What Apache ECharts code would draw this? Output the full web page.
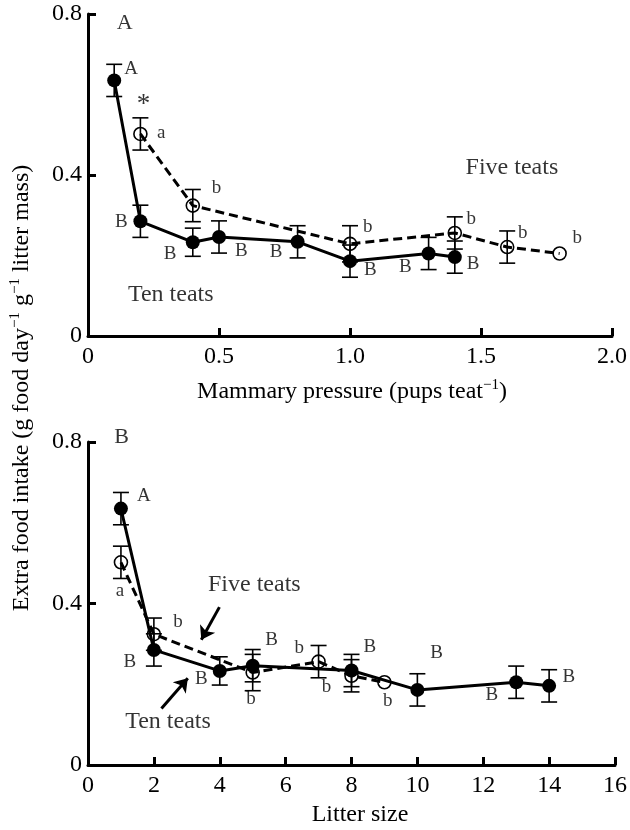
<!DOCTYPE html>
<html>
<head>
<meta charset="utf-8">
<script src="https://cdn.jsdelivr.net/npm/echarts@6/dist/echarts.min.js"></script>
<style>
  html, body { margin: 0; padding: 0; background: #fff; }
  #chart { width: 630px; height: 830px; }
</style>
</head>
<body>
<div id="chart"></div>
<script>
// Extra food intake of lactating females nursing with ten or five teats
const tenPressure  = [0.1, 0.2, 0.4, 0.5, 0.8, 1.0, 1.3, 1.4];
const tenLitter    = [1, 2, 4, 5, 8, 10, 13, 14];
const tenIntake    = [0.635, 0.285, 0.233, 0.246, 0.234, 0.186, 0.205, 0.196];
const tenSE        = [0.04, 0.04, 0.035, 0.04, 0.04, 0.04, 0.04, 0.04];

const fivePressure = [0.2, 0.4, 1.0, 1.4, 1.6, 1.8];
const fiveLitter   = [1, 2, 5, 7, 8, 9];
const fiveIntake   = [0.502, 0.324, 0.229, 0.256, 0.221, 0.205];
const fiveSE       = [0.04, 0.04, 0.045, 0.04, 0.04, 0];

const yTicks  = ['0', '0.4', '0.8'];
const xTicksA = ['0', '0.5', '1.0', '1.5', '2.0'];
const xTicksB = ['0', '2', '4', '6', '8', '10', '12', '14', '16'];

// significance letters, placed in data units of each panel
const notesA = [
  ['A', 0.165, 0.663], ['*', 0.212, 0.575], ['a', 0.279, 0.504], ['b', 0.490, 0.368],
  ['B', 0.127, 0.284], ['B', 0.313, 0.204], ['B', 0.585, 0.212], ['B', 0.718, 0.208],
  ['b', 1.068, 0.270], ['B', 1.078, 0.164], ['B', 1.211, 0.172], ['b', 1.463, 0.291],
  ['B', 1.470, 0.179], ['b', 1.659, 0.257], ['b', 1.867, 0.243],
  ['Five teats', 1.618, 0.418], ['Ten teats', 0.316, 0.102]
];
const notesB = [
  ['A', 1.694, 0.666], ['a', 0.968, 0.432], ['b', 2.731, 0.355], ['B', 1.27, 0.254],
  ['B', 3.44, 0.212], ['b', 4.95, 0.163], ['B', 5.575, 0.310], ['b', 6.41, 0.289],
  ['b', 7.24, 0.194], ['B', 8.56, 0.293], ['b', 9.10, 0.159], ['B', 10.58, 0.277],
  ['B', 12.26, 0.173], ['B', 14.6, 0.217],
  ['Five teats', 5.05, 0.446], ['Ten teats', 2.43, 0.107]
];
const panelTags = [['A', 0.14, 0.778, 0], ['B', 1.02, 0.813, 1]];
const arrowsB = [
  [[3.99, 0.391], [3.44, 0.310]],
  [[2.23, 0.140], [3.03, 0.215]]
];

const FONT = '"Liberation Serif", "Times New Roman", Times, serif';
const zip = (xs, ys) => xs.map((x, i) => [x, ys[i]]);

function noteSize(t) {
  if (t.length > 1) return 24;
  if (t === '*') return 27;
  return 19;
}

function errorBars(xs, ys, es, idx) {
  return {
    type: 'custom', xAxisIndex: idx, yAxisIndex: idx, silent: true, z: 1,
    data: xs.map((x, i) => [x, ys[i], es[i]]),
    renderItem(params, api) {
      const x = api.value(0), y = api.value(1), e = api.value(2);
      if (!e) return { type: 'group', children: [] };
      const top = api.coord([x, y + e]);
      const bot = api.coord([x, y - e]);
      const w = 8;
      const st = { stroke: '#000', lineWidth: 1.6 };
      return {
        type: 'group',
        children: [
          { type: 'line', shape: { x1: top[0], y1: top[1], x2: bot[0], y2: bot[1] }, style: st },
          { type: 'line', shape: { x1: top[0] - w, y1: top[1], x2: top[0] + w, y2: top[1] }, style: st },
          { type: 'line', shape: { x1: bot[0] - w, y1: bot[1], x2: bot[0] + w, y2: bot[1] }, style: st }
        ]
      };
    }
  };
}

function tenLine(xs, idx) {
  return {
    type: 'line', xAxisIndex: idx, yAxisIndex: idx, z: 3,
    data: zip(xs, tenIntake),
    symbol: 'circle', symbolSize: 14,
    itemStyle: { color: '#000' },
    lineStyle: { color: '#000', width: 3 }
  };
}

function fiveLine(xs, idx) {
  return {
    type: 'line', xAxisIndex: idx, yAxisIndex: idx, z: 2,
    data: zip(xs, fiveIntake),
    symbol: 'circle', symbolSize: 13,
    itemStyle: { color: 'rgba(0,0,0,0)', borderColor: '#000', borderWidth: 1.6 },
    lineStyle: { color: '#000', width: 3, type: [9, 5] }
  };
}

function noteSeries(notes, idx) {
  return {
    type: 'scatter', xAxisIndex: idx, yAxisIndex: idx, clip: false, silent: true, z: 5,
    symbolSize: 1,
    itemStyle: { color: 'rgba(0,0,0,0)' },
    data: notes.map(n => ({
      value: [n[1], n[2]], name: n[0],
      label: { fontSize: noteSize(n[0]) }
    })),
    label: {
      show: true, position: 'inside', formatter: p => p.name,
      color: '#000', fontFamily: FONT
    }
  };
}

function tagSeries(idx) {
  return {
    type: 'scatter', xAxisIndex: idx, yAxisIndex: idx, clip: false, silent: true, z: 5,
    symbolSize: 1,
    itemStyle: { color: 'rgba(0,0,0,0)' },
    data: panelTags.filter(t => t[3] === idx).map(t => ({ value: [t[1], t[2]], name: t[0] })),
    label: {
      show: true, position: 'inside', formatter: p => p.name,
      color: '#000', fontFamily: FONT, fontSize: 22
    }
  };
}

const axisLine = { show: true, lineStyle: { color: '#000', width: 3 } };
const axisTick = { show: true, inside: true, length: 8, lineStyle: { color: '#000', width: 3 } };
const tickFont = { color: '#000', fontFamily: FONT, fontSize: 24 };

function xAxis(idx, max, interval, ticks) {
  return {
    type: 'value', gridIndex: idx, min: 0, max: max, interval: interval,
    axisLine, axisTick, splitLine: { show: false },
    axisLabel: Object.assign({ margin: 9, formatter: v => ticks[Math.round(v / interval)] }, tickFont)
  };
}
function yAxis(idx) {
  return {
    type: 'value', gridIndex: idx, min: 0, max: 0.8, interval: 0.4,
    axisLine, axisTick, splitLine: { show: false },
    axisLabel: Object.assign({ margin: 6, formatter: v => yTicks[Math.round(v / 0.4)] }, tickFont)
  };
}

const titleRich = {
  n: { fontFamily: FONT, fontSize: 24, color: '#000', lineHeight: 30 },
  s: { fontFamily: FONT, fontSize: 15, color: '#000', lineHeight: 30, verticalAlign: 'top', padding: [1, 0, 0, 0] }
};

const chart = echarts.init(document.getElementById('chart'), null, { renderer: 'canvas' });
chart.setOption({
  animation: false,
  backgroundColor: '#fff',
  grid: [
    { left: 88, top: 14, width: 529, height: 322 },
    { left: 88, top: 442, width: 528, height: 323 }
  ],
  xAxis: [xAxis(0, 2, 0.5, xTicksA), xAxis(1, 16, 2, xTicksB)],
  yAxis: [yAxis(0), yAxis(1)],
  series: [
    errorBars(tenPressure, tenIntake, tenSE, 0),
    errorBars(fivePressure, fiveIntake, fiveSE, 0),
    fiveLine(fivePressure, 0),
    tenLine(tenPressure, 0),
    noteSeries(notesA, 0),
    tagSeries(0),

    errorBars(tenLitter, tenIntake, tenSE, 1),
    errorBars(fiveLitter, fiveIntake, fiveSE, 1),
    fiveLine(fiveLitter, 1),
    tenLine(tenLitter, 1),
    noteSeries(notesB, 1),
    tagSeries(1),
    {
      type: 'lines', coordinateSystem: 'cartesian2d', xAxisIndex: 1, yAxisIndex: 1, silent: true, z: 4,
      symbol: ['none', 'arrow'], symbolSize: [1, 13],
      lineStyle: { color: '#000', width: 3, opacity: 1, curveness: 0 },
      data: arrowsB.map(c => ({ coords: c }))
    }
  ],
  graphic: [
    {
      type: 'text', x: 352, y: 392, silent: true,
      style: {
        text: '{n|Mammary pressure (pups teat}{s|−1}{n|)}',
        rich: titleRich, textAlign: 'center', textVerticalAlign: 'middle',
        align: 'center', verticalAlign: 'middle'
      }
    },
    {
      type: 'text', x: 360, y: 815, silent: true,
      style: {
        text: '{n|Litter size}',
        rich: titleRich, textAlign: 'center', textVerticalAlign: 'middle',
        align: 'center', verticalAlign: 'middle'
      }
    },
    {
      type: 'text', x: 22, y: 388, rotation: Math.PI / 2, silent: true,
      style: {
        text: '{n|Extra food intake (g food day}{s|−1}{n| g}{s|−1}{n| litter mass)}',
        rich: titleRich, textAlign: 'center', textVerticalAlign: 'middle',
        align: 'center', verticalAlign: 'middle'
      }
    }
  ]
});
</script>
</body>
</html>
